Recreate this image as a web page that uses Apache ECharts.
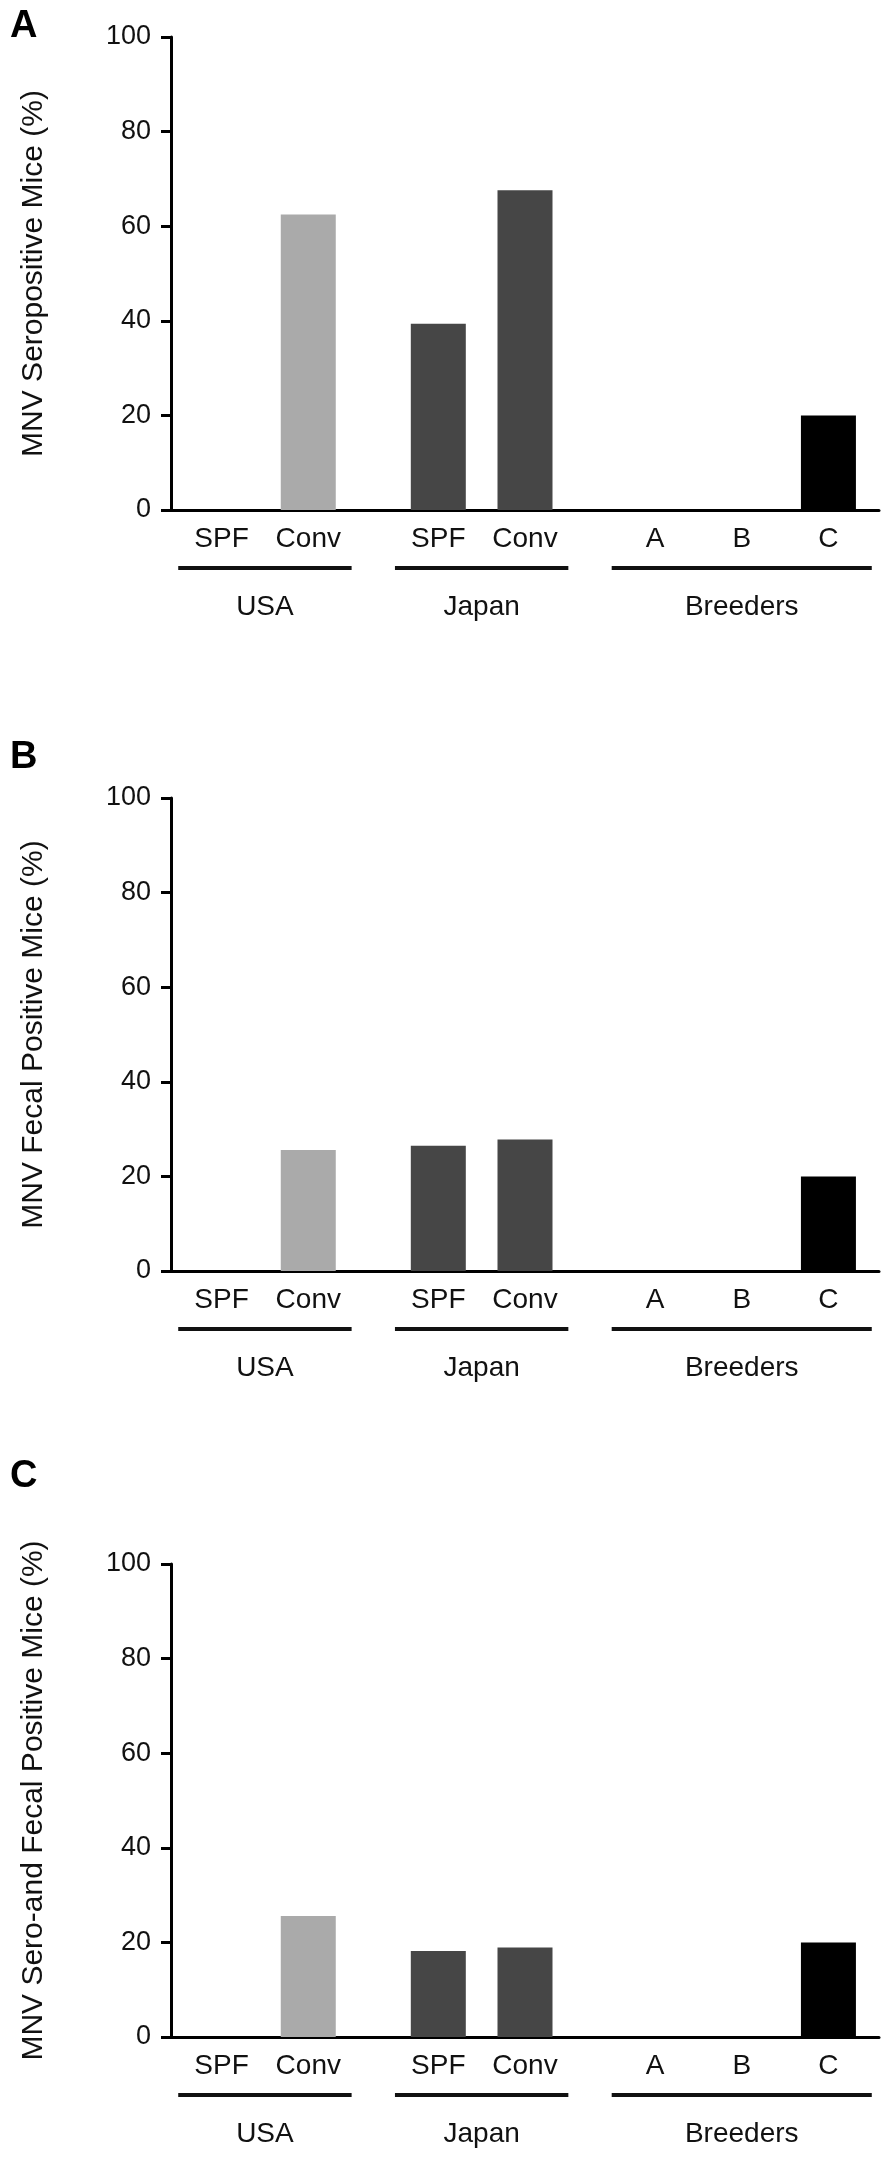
<!DOCTYPE html>
<html>
<head>
<meta charset="utf-8">
<script src="https://cdn.jsdelivr.net/npm/echarts@6/dist/echarts.min.js"></script>
<style>
  html, body { margin: 0; padding: 0; background: #fff; }
  #chart { width: 892px; height: 2161px; }
</style>
</head>
<body>
<div id="chart"></div>
<script>
// groups and the bars inside them
var groupNames = ["USA", "Japan", "Breeders"];
var groupItems = [["SPF", "Conv"], ["SPF", "Conv"], ["A", "B", "C"]];
var groupColors = ["#aaaaaa", "#464646", "#000000"];

// values, in order: USA SPF, USA Conv, Japan SPF, Japan Conv, A, B, C
var seroPositive = [0, 62.5, 39.4, 67.6, 0, 0, 20];
var fecalPositive = [0, 25.6, 26.5, 27.8, 0, 0, 20];
var seroFecalPositive = [0, 25.6, 18.2, 18.9, 0, 0, 20];

var panelLetters = ["A", "B", "C"];
var panelTitles = [
  "MNV Seropositive Mice (%)",
  "MNV Fecal Positive Mice (%)",
  "MNV Sero-and Fecal Positive Mice (%)"
];
var yTicks = [0, 20, 40, 60, 80, 100];

/*layout*/
var panelValues = [seroPositive, fecalPositive, seroFecalPositive];
var gridTops = [37, 798, 1564];
var gridHeight = 473;
var letterY = [27, 758, 1477];
var FONT = "Liberation Sans, Arial, sans-serif";

// the x axis is cut in narrow slots, bars sit on some of them
var slots = [], itemSlot = [], itemGroup = [];
function pad(n) { for (var i = 0; i < n; i++) slots.push(""); }
pad(3);
groupItems.forEach(function (items, g) {
  if (g > 0) pad(8);
  items.forEach(function (name, j) {
    if (j > 0) pad(5);
    itemSlot.push(slots.length);
    itemGroup.push(g);
    slots.push(name);
  });
});
pad(49 - slots.length);
var slotKeys = slots.map(function (s, i) { return "s" + i; });

function barData(values) {
  var out = slots.map(function () { return "-"; });
  values.forEach(function (v, i) {
    out[itemSlot[i]] = {
      value: v,
      itemStyle: { color: groupColors[itemGroup[i]] }
    };
  });
  return out;
}

var grids = [], xAxes = [], yAxes = [], series = [];
panelValues.forEach(function (vals, p) {
  grids.push({ left: 171, right: 13, top: gridTops[p], height: gridHeight });
  xAxes.push({
    type: "category",
    gridIndex: p,
    data: slotKeys,
    boundaryGap: true,
    axisLine: { lineStyle: { color: "#000", width: 3 } },
    axisTick: { show: false },
    axisLabel: {
      interval: 0,
      margin: 15,
      color: "#111",
      fontSize: 28,
      fontFamily: FONT,
      formatter: function (v, idx) { return slots[idx]; }
    }
  });
  yAxes.push({
    type: "value",
    gridIndex: p,
    min: yTicks[0],
    max: yTicks[yTicks.length - 1],
    interval: yTicks[1] - yTicks[0],
    name: panelTitles[p],
    nameLocation: "middle",
    nameGap: 122,
    nameTextStyle: { color: "#111", fontSize: 30, fontFamily: FONT },
    axisLine: { show: true, lineStyle: { color: "#000", width: 3 } },
    axisTick: { show: true, length: 10, lineStyle: { color: "#000", width: 3 } },
    axisLabel: { margin: 20, color: "#111", fontSize: 27, fontFamily: FONT },
    splitLine: { show: false }
  });
  series.push({
    type: "bar",
    xAxisIndex: p,
    yAxisIndex: p,
    barWidth: 55,
    data: barData(vals),
    animation: false
  });
});

var myChart = echarts.init(document.getElementById("chart"));
myChart.setOption({
  animation: false,
  grid: grids,
  xAxis: xAxes,
  yAxis: yAxes,
  series: series
});

/*group underlines and group names*/
var graphics = [];
panelValues.forEach(function (vals, p) {
  var zeroY = myChart.convertToPixel({ yAxisIndex: p }, 0);
  var start = 0;
  groupItems.forEach(function (items, g) {
    var first = itemSlot[start], last = itemSlot[start + items.length - 1];
    start += items.length;
    var x1 = myChart.convertToPixel({ xAxisIndex: p }, first - 3);
    var x2 = myChart.convertToPixel({ xAxisIndex: p }, last + 3);
    graphics.push({
      type: "line",
      shape: { x1: x1, y1: zeroY + 58, x2: x2, y2: zeroY + 58 },
      style: { stroke: "#111", lineWidth: 4 }
    });
    graphics.push({
      type: "text",
      x: (x1 + x2) / 2,
      y: zeroY + 97,
      style: {
        text: groupNames[g],
        fill: "#111",
        font: "28px " + FONT,
        textAlign: "center",
        textVerticalAlign: "middle"
      }
    });
  });
  graphics.push({
    type: "text",
    x: 10,
    y: letterY[p],
    style: {
      text: panelLetters[p],
      fill: "#000",
      font: "bold 38px " + FONT,
      textAlign: "left",
      textVerticalAlign: "middle"
    }
  });
});
myChart.setOption({ graphic: graphics });
</script>
</body>
</html>
